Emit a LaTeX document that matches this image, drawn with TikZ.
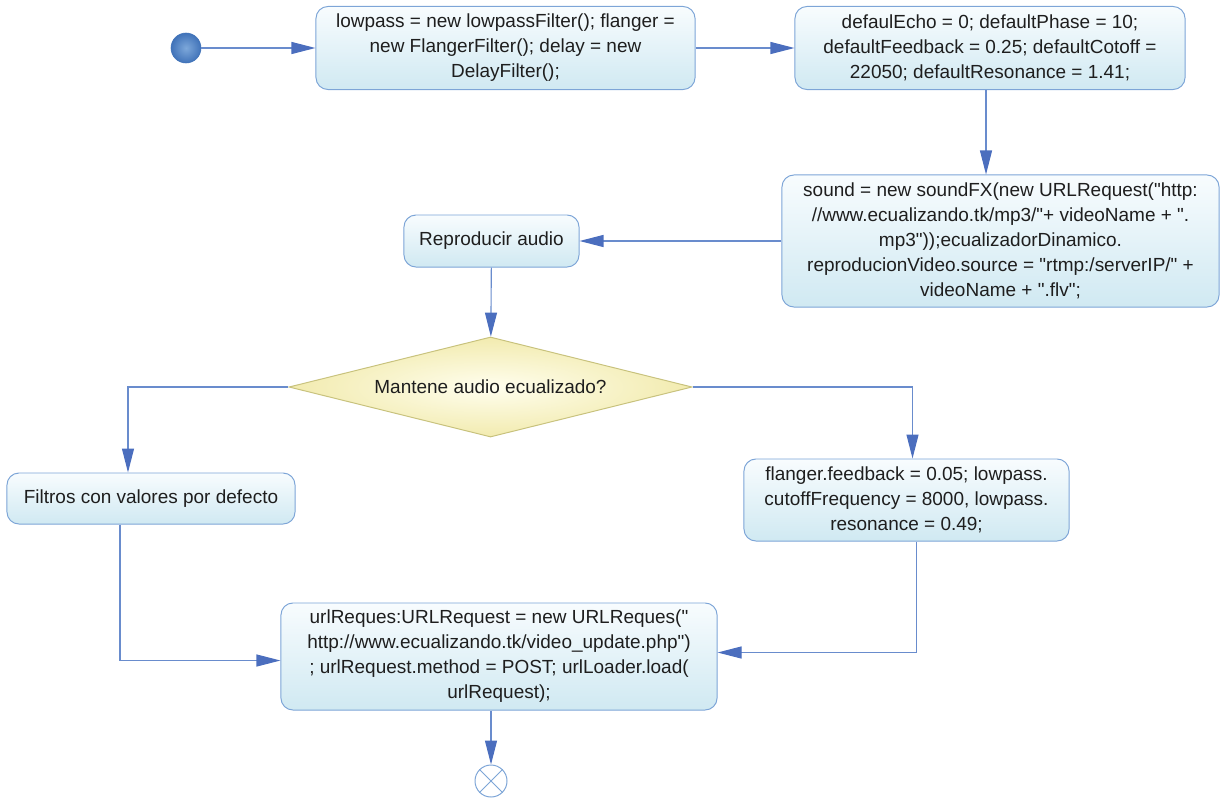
\documentclass[tikz,border=0pt]{standalone}
\usepackage{fontspec}
\setmainfont{Liberation Sans}
\usetikzlibrary{positioning,calc}
\usetikzlibrary{arrows.meta,shapes.geometric}
\definecolor{BoxLine}{RGB}{125,165,215}
\definecolor{BoxTop}{RGB}{248,252,254}
\definecolor{BoxBot}{RGB}{208,233,242}
\definecolor{FlowBlue}{RGB}{105,140,205}
\definecolor{TipBlue}{RGB}{75,110,190}
\definecolor{DecLine}{RGB}{200,194,125}
\definecolor{DecIn}{RGB}{255,254,238}
\definecolor{DecOut}{RGB}{242,235,175}
\definecolor{DotIn}{RGB}{125,168,218}
\definecolor{DotOut}{RGB}{65,115,185}
\definecolor{InkGray}{RGB}{30,30,30}
\newcommand\dq{\textquotedbl}
\tikzset{
  act/.style={draw=BoxLine,line width=0.7pt,top color=BoxTop,bottom color=BoxBot,
    rounded corners=0.3cm,align=center,inner sep=2pt,text=InkGray,
    font=\fontsize{13.5}{17.8}\selectfont},
  decide/.style={diamond,aspect=4,draw=DecLine,line width=0.7pt,inner color=DecIn,outer color=DecOut,
    inner sep=0pt,text=InkGray,font=\fontsize{13.5}{17.8}\selectfont},
  flow/.style={draw=FlowBlue,line width=0.8pt,
    -{Triangle[length=0.6cm,width=0.3cm,fill=TipBlue,color=TipBlue]}},
  startdot/.style={circle,draw=DotOut,inner color=DotIn,outer color=DotOut,
    minimum size=0.75cm,inner sep=0pt},
  enddot/.style={circle,draw=BoxLine,fill=white,line width=0.7pt,
    minimum size=0.8cm,inner sep=0pt},
}

\begin{document}
\begin{tikzpicture}[x=0.025cm,y=-0.025cm]
  \useasboundingbox (0,0) rectangle (1220,803);
  % top row
  \node[startdot] (start) at (186,48) {};
  \node[act,minimum width=9.475cm,minimum height=2.075cm] (init) at (505.5,48)
    {lowpass = new lowpassFilter(); flanger =\\ new FlangerFilter(); delay = new\\ DelayFilter();};
  \node[act,minimum width=9.75cm,minimum height=2.075cm] (defaults) at (990,48)
    {defaulEcho = 0; defaultPhase = 10;\\ defaultFeedback = 0.25; defaultCotoff =\\ 22050; defaultResonance = 1.41;};
  % load the sound and the video
  \node[act,minimum width=10.925cm,minimum height=3.3cm] (sound) at (1000.5,241)
    {sound = new soundFX(new URLRequest(\dq http:\\ //www.ecualizando.tk/mp3/\dq+ videoName + \dq.\\
     mp3\dq));ecualizadorDinamico.\\ reproducionVideo.source = \dq rtmp:/serverIP/\dq{} +\\ videoName + \dq.flv\dq;};
  \node[act,minimum width=4.375cm,minimum height=1.3cm] (play) at (491.5,241) {Reproducir audio};
  % decision and its two branches
  \node[decide,minimum width=10.075cm,minimum height=2.5cm] (dec) at (490.5,387)
    {Mantene audio ecualizado?};
  \node[act,minimum width=7.2cm,minimum height=1.275cm] (dflt) at (151,498.5)
    {Filtros con valores por defecto};
  \node[act,minimum width=8.125cm,minimum height=2.05cm] (tune) at (906.5,500)
    {flanger.feedback = 0.05; lowpass.\\ cutoffFrequency = 8000, lowpass.\\ resonance = 0.49;};
  % send the update
  \node[act,minimum width=10.9cm,minimum height=2.675cm] (post) at (499,656.5)
    {urlReques:URLRequest = new URLReques(\dq\\ http://www.ecualizando.tk/video\_update.php\dq)\\
     ; urlRequest.method = POST; urlLoader.load(\\ urlRequest);};
  \node[enddot] (stop) at (491,781) {};
  \draw[BoxLine,line width=0.7pt] (stop.north west) -- (stop.south east)
    (stop.north east) -- (stop.south west);

  \draw[flow] (start) -- (init);
  \draw[flow] (init) -- (defaults);
  \draw[flow] ([xshift=-0.1cm]defaults.south) -- ([xshift=-0.1cm]defaults.south |- sound.north);
  \draw[flow] (sound) -- (play);
  \draw[flow] (play) -- (dec);
  \draw[flow] (dec.west) -| ([xshift=-0.575cm]dflt.north);
  \draw[flow] (dec.east) -| ([xshift=0.15cm]tune.north);
  \draw[flow] ([xshift=-0.775cm]dflt.south) |- ([yshift=-0.1cm]post.west);
  \draw[flow] ([xshift=0.25cm]tune.south) |- ([yshift=0.1cm]post.east);
  \draw[flow] (post.south -| stop) -- (stop);
\end{tikzpicture}
\end{document}
